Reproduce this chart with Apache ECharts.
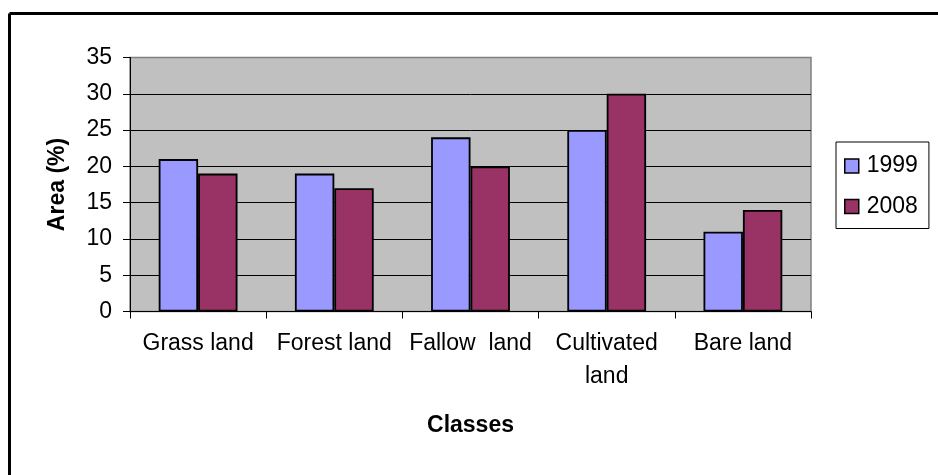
<!DOCTYPE html>
<html>
<head>
<meta charset="utf-8">
<script src="https://cdn.jsdelivr.net/npm/echarts@6/dist/echarts.min.js"></script>
<style>
  html, body { margin: 0; padding: 0; background: #fff; }
  #chart { width: 938px; height: 475px; }
</style>
</head>
<body>
<div id="chart"></div>
<script>
// Land-cover classes and their share of the area (%)
var categories = ['Grass land', 'Forest land', 'Fallow  land', 'Cultivated\nland', 'Bare land'];
var values1999 = [21, 19, 24, 25, 11];
var values2008 = [19, 17, 20, 30, 14];
var seriesNames = ['1999', '2008'];

var FONT = '"Liberation Sans", Arial, sans-serif';

var chart = echarts.init(document.getElementById('chart'), null, { renderer: 'canvas' });

chart.setOption({
  animation: false,
  backgroundColor: '#fff',
  textStyle: { fontFamily: FONT },
  graphic: [
    // outer frame (top and left edges visible)
    { type: 'line', shape: { x1: 9.5, y1: 13.5, x2: 938, y2: 13.5 }, style: { stroke: '#000', lineWidth: 3 } },
    { type: 'line', shape: { x1: 9.5, y1: 13.5, x2: 9.5, y2: 475 }, style: { stroke: '#000', lineWidth: 3 } }
  ],
  grid: {
    left: 130, top: 57.5, right: 127, bottom: 163.5,
    show: true, backgroundColor: '#C0C0C0', borderColor: '#808080', borderWidth: 1.5
  },
  legend: {
    orient: 'vertical',
    left: 836, top: 142,
    padding: [11, 11, 9, 8],
    itemGap: 14.5,
    itemWidth: 14, itemHeight: 14,
    icon: 'rect',
    borderColor: '#000', borderWidth: 1,
    backgroundColor: '#fff',
    itemStyle: { borderColor: '#000', borderWidth: 1.5 },
    textStyle: { fontFamily: FONT, fontSize: 23, color: '#000', lineHeight: 26, padding: [0, 0, 0, 3] },
    data: seriesNames
  },
  xAxis: {
    type: 'category',
    data: categories,
    name: 'Classes',
    nameLocation: 'middle',
    nameGap: 103,
    nameTextStyle: { fontFamily: FONT, fontSize: 23, fontWeight: 'bold', color: '#000' },
    axisLine: { lineStyle: { color: '#000', width: 1.2 } },
    axisTick: { show: true, length: 7, lineStyle: { color: '#000' } },
    axisLabel: { fontFamily: FONT, fontSize: 23, color: '#000', margin: 16, lineHeight: 33, interval: 0 }
  },
  yAxis: {
    type: 'value',
    min: 0, max: 35, interval: 5,
    name: 'Area (%)',
    nameLocation: 'middle',
    nameRotate: 90,
    nameGap: 61,
    nameTextStyle: { fontFamily: FONT, fontSize: 23, fontWeight: 'bold', color: '#000' },
    axisLine: { show: true, lineStyle: { color: '#000', width: 1 } },
    axisTick: { show: true, length: 7, lineStyle: { color: '#000' } },
    axisLabel: { fontFamily: FONT, fontSize: 23, color: '#000', margin: 18 },
    splitLine: {
      show: true,
      lineStyle: { color: ['#000', '#000', '#000', '#000', '#000', '#000', '#000', '#808080'], width: 1 }
    }
  },
  series: [
    {
      name: seriesNames[0], type: 'bar', data: values1999,
      barWidth: 39.4, barGap: '0%',
      itemStyle: { color: '#9999FF', borderColor: '#000', borderWidth: 1.8 }
    },
    {
      name: seriesNames[1], type: 'bar', data: values2008,
      barWidth: 39.4, barGap: '0%',
      itemStyle: { color: '#993366', borderColor: '#000', borderWidth: 1.8 }
    }
  ]
});
</script>
</body>
</html>
